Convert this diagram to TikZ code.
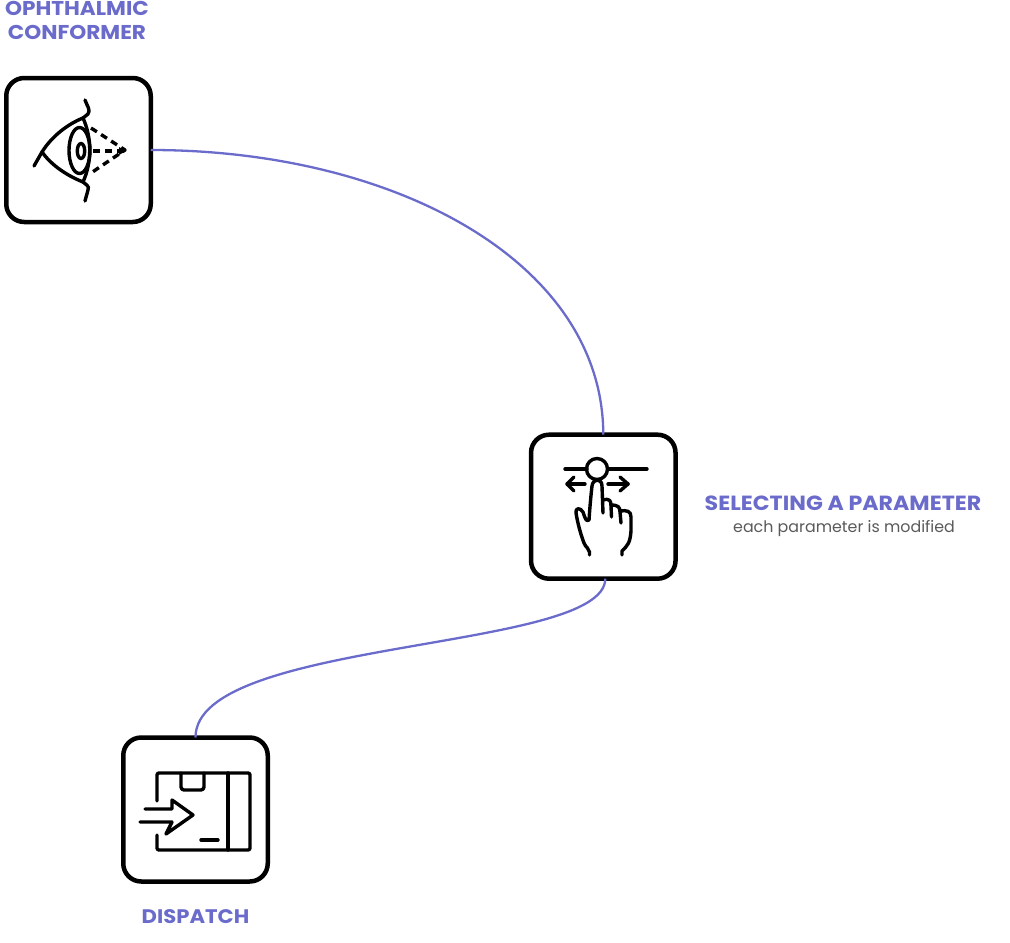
\documentclass[tikz,border=0pt]{standalone}
\usepackage{fontspec}
\setmainfont{Poppins}
\newfontfamily\titlefont[FakeStretch=1.08]{Poppins}
\usetikzlibrary{arrows.meta}
\definecolor{accent}{HTML}{6A6BCB}
\definecolor{subgray}{HTML}{5A5A5A}
\tikzset{
  x=1pt,y=-1pt,
  iconbox/.style={draw=black,line width=4.5pt,rounded corners=18pt,minimum width=144.5pt,minimum height=144pt,outer sep=0pt,fill=white},
  link/.style={draw=accent,line width=2.3pt},
  icon/.style={draw=black,line width=3.4pt,line cap=round,line join=round},
  title/.style={text=accent,font=\titlefont\fontsize{20}{24}\selectfont\bfseries,align=center},
  sub/.style={text=subgray,font=\fontsize{15.85}{19}\selectfont}
}
\begin{document}
\begin{tikzpicture}
\useasboundingbox (0,0) rectangle (1010,943);
\node[iconbox] (eye) at (78.5,150) {};
\node[iconbox] (hand) at (603.3,506.7) {};
\node[iconbox] (box) at (195.5,809.5) {};
\draw[link] (eye.east) .. controls (395,150) and (603,262) .. (hand.north);
\draw[link] ([xshift=2pt]hand.south) .. controls (605,652) and (195,638) .. (box.north);
\node[title] (t1) at (77,20) {OPHTHALMIC\\CONFORMER};
\node[title,font=\titlefont\fontsize{20.5}{24}\selectfont\bfseries] (t2) at (843,503) {SELECTING A PARAMETER};
\node[sub] (t2s) at (844,528.5) {each parameter is modified};
\node[title,font=\titlefont\fontsize{19.6}{24}\selectfont\bfseries] (t3) at (195.5,917) {DISPATCH};
% eye icon
\draw[icon] (34,166) -- (42,152) .. controls (52,136) and (68,124) .. (83,118);
\draw[icon] (42,152) .. controls (52,166) and (68,176) .. (83,182);
\draw[icon] (85,100) .. controls (87,106) and (91,110) .. (88,114) .. controls (86,116) and (84,117) .. (83,118) .. controls (92,138) and (92,162) .. (83,182) .. controls (85,184) and (90,186) .. (88,190) .. controls (87,194) and (86,197) .. (85,201);
\draw[icon] (79.5,150.5) ellipse (10.5 and 23);
\draw[icon] (81,151) ellipse (3.7 and 7.5);
\draw[icon,dash pattern=on 7pt off 5pt,line cap=butt] (91,128) -- (125,150) -- (91,173);
\draw[icon,dash pattern=on 7pt off 5pt,line cap=butt] (93,151) -- (125,151);
\fill (119,147) -- (126,151) -- (119,155) -- cycle;
% hand icon
\draw[icon] (565,469) -- (587,469);
\draw[icon] (608,469) -- (647,469);
\draw[icon] (597,469) circle (10.5);
\draw[icon] (585,484) -- (567,484);
\draw[icon] (574,477) -- (567,484) -- (574,491);
\draw[icon] (608,484) -- (628,484);
\draw[icon] (620,477) -- (628,484) -- (620,491);
\draw[icon] (589,520) .. controls (590,505) and (591,495) .. (592,486) .. controls (593,478) and (602,478) .. (602,486) -- (603,513);
\draw[icon] (603,500) .. controls (610,498) and (611,501) .. (611,506) -- (611.5,517);
\draw[icon] (611,505) .. controls (618,505) and (620,507) .. (620,512) -- (621,523);
\draw[icon] (620,511) .. controls (627,510) and (631,511) .. (631,517) -- (631,531) .. controls (630,543) and (628,545) .. (622,551) -- (622,555);
\draw[icon] (589,520) .. controls (586,522) and (585,518) .. (583,512) .. controls (580,507) and (575,508) .. (576,513) .. controls (578,525) and (581,535) .. (584,543) .. controls (586,548) and (589,548) .. (589.5,552) -- (589.5,555);
% package icon
\draw[icon,rounded corners=2pt] (157,801) -- (157,773) -- (250,773) -- (250,850) -- (157,850) -- (157,835);
\draw[icon] (228,773) -- (228,850);
\draw[icon,rounded corners=3pt] (181,773) -- (181,790) -- (204,790) -- (204,773);
\draw[icon] (201,840) -- (218,840);
\draw[icon] (145,809) -- (172,809) -- (172,800) -- (193,815) -- (166,834) -- (172,822) -- (140,822);
\end{tikzpicture}
\end{document}
